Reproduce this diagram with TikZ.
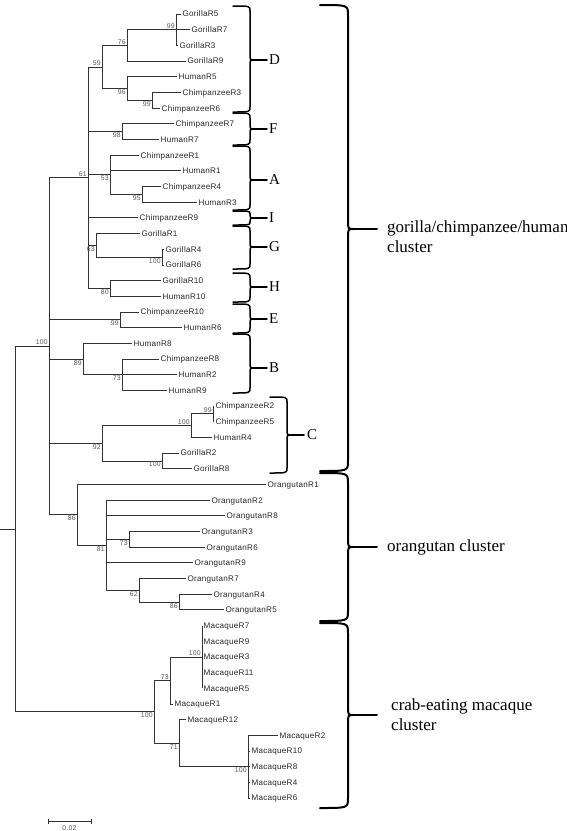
\documentclass[tikz,border=0pt]{standalone}
\usepackage{fontspec}
\setmainfont{Liberation Serif}
\newfontfamily\tipfont[LetterSpace=3]{Liberation Sans}

% curly bracket: [style] x, top, tip, bottom, hook, bend, end of tip line
\newcommand{\curly}[8][]{%
  \draw[brace line, #1] (#2-#6,#3) .. controls (#2,#3) .. (#2,#3+#7)
    -- (#2,#4-#7) .. controls (#2,#4) .. (#2+5,#4)
    .. controls (#2,#4) .. (#2,#4+#7)
    -- (#2,#5-#7) .. controls (#2,#5) .. (#2-#6,#5);
  \draw[brace line, #1] (#2+5,#4) -- (#8,#4);}

\begin{document}
\begin{tikzpicture}[x=1pt, y=-1pt]
    \tikzset{branch/.style={draw=black!80, line width=0.8pt},
             leaf/.style={font=\tipfont\fontsize{8.1}{9}\selectfont, text=black!85, anchor=west,
                          inner sep=1.5pt, text height=5.8pt, text depth=0pt},
             boot/.style={font=\tipfont\fontsize{6.9}{8}\selectfont, text=black!65, inner sep=1pt},
             clade/.style={font=\fontsize{15}{18}\selectfont, anchor=west, inner sep=1pt},
             cluster/.style={font=\fontsize{17}{20}\selectfont, anchor=west, align=left, inner sep=1pt},
             brace line/.style={draw=black, line width=1.5pt, line cap=round}}
    \useasboundingbox (0,0) rectangle (567,831);

    % leaves
    \node [leaf] (gR5)  at (181,14.0)  {GorillaR5};
    \node [leaf] (gR7)  at (190,29.7)  {GorillaR7};
    \node [leaf] (gR3)  at (178,45.4)  {GorillaR3};
    \node [leaf] (gR9)  at (186,61.0)  {GorillaR9};
    \node [leaf] (hR5)  at (177,76.7)  {HumanR5};
    \node [leaf] (cR3)  at (181,92.4)  {ChimpanzeeR3};
    \node [leaf] (cR6)  at (160,108.1) {ChimpanzeeR6};
    \node [leaf] (cR7)  at (174,123.8) {ChimpanzeeR7};
    \node [leaf] (hR7)  at (159,139.4) {HumanR7};
    \node [leaf] (cR1)  at (139,155.1) {ChimpanzeeR1};
    \node [leaf] (hR1)  at (181,170.8) {HumanR1};
    \node [leaf] (cR4)  at (161,186.5) {ChimpanzeeR4};
    \node [leaf] (hR3)  at (197,202.2) {HumanR3};
    \node [leaf] (cR9)  at (138,217.8) {ChimpanzeeR9};
    \node [leaf] (gR1)  at (140,233.5) {GorillaR1};
    \node [leaf] (gR4)  at (164,249.2) {GorillaR4};
    \node [leaf] (gR6)  at (164,264.9) {GorillaR6};
    \node [leaf] (gR10) at (161,280.6) {GorillaR10};
    \node [leaf] (hR10) at (161,296.2) {HumanR10};
    \node [leaf] (cR10) at (139,311.9) {ChimpanzeeR10};
    \node [leaf] (hR6)  at (182,327.6) {HumanR6};
    \node [leaf] (hR8)  at (132,343.3) {HumanR8};
    \node [leaf] (cR8)  at (159,359.0) {ChimpanzeeR8};
    \node [leaf] (hR2)  at (177,374.6) {HumanR2};
    \node [leaf] (hR9)  at (167,390.3) {HumanR9};
    \node [leaf] (cR2)  at (214,406.0) {ChimpanzeeR2};
    \node [leaf] (cR5)  at (214,421.7) {ChimpanzeeR5};
    \node [leaf] (hR4)  at (212,437.4) {HumanR4};
    \node [leaf] (gR2)  at (179,453.0) {GorillaR2};
    \node [leaf] (gR8)  at (192,468.7) {GorillaR8};
    \node [leaf] (oR1)  at (266,484.4) {OrangutanR1};
    \node [leaf] (oR2)  at (210,500.1) {OrangutanR2};
    \node [leaf] (oR8)  at (225,515.8) {OrangutanR8};
    \node [leaf] (oR3)  at (200,531.4) {OrangutanR3};
    \node [leaf] (oR6)  at (205,547.1) {OrangutanR6};
    \node [leaf] (oR9)  at (193,562.8) {OrangutanR9};
    \node [leaf] (oR7)  at (186,578.5) {OrangutanR7};
    \node [leaf] (oR4)  at (212,594.2) {OrangutanR4};
    \node [leaf] (oR5)  at (224,609.8) {OrangutanR5};
    \node [leaf] (mR7)  at (202,625.5) {MacaqueR7};
    \node [leaf] (mR9)  at (202,641.2) {MacaqueR9};
    \node [leaf] (mR3)  at (202,656.9) {MacaqueR3};
    \node [leaf] (mR11) at (202,672.6) {MacaqueR11};
    \node [leaf] (mR5)  at (202,688.2) {MacaqueR5};
    \node [leaf] (mR1)  at (173,703.9) {MacaqueR1};
    \node [leaf] (mR12) at (186,719.6) {MacaqueR12};
    \node [leaf] (mR2)  at (278,735.3) {MacaqueR2};
    \node [leaf] (mR10) at (250,751.0) {MacaqueR10};
    \node [leaf] (mR8)  at (250,766.6) {MacaqueR8};
    \node [leaf] (mR4)  at (250,782.3) {MacaqueR4};
    \node [leaf] (mR6)  at (250,798.0) {MacaqueR6};

    % inner nodes
    \coordinate (base)  at (0,529);
    \coordinate (root)  at (15,529);
    \coordinate (gch)   at (49,346.2);
    \coordinate (c61)   at (88,177.7);
    \coordinate (c59)   at (102,66.9);
    \coordinate (c76)   at (127,45.4);
    \coordinate (c99a)  at (176,29.7);
    \coordinate (c96)   at (127,88.5);
    \coordinate (c99b)  at (152,100.2);
    \coordinate (c98)   at (122,131.6);
    \coordinate (c53)   at (110,174.7);
    \coordinate (c95)   at (142,194.3);
    \coordinate (c63)   at (96,245.3);
    \coordinate (c100a) at (162,257.0);
    \coordinate (c80)   at (110,288.4);
    \coordinate (c99e)  at (120,319.8);
    \coordinate (c89)   at (83,359.0);
    \coordinate (c73)   at (122,374.6);
    \coordinate (c92)   at (102,443.1);
    \coordinate (c100b) at (191,425.6);
    \coordinate (c99d)  at (213,413.8);
    \coordinate (c100c) at (162,460.9);
    \coordinate (c86)   at (77,514.8);
    \coordinate (c81)   at (106,545.2);
    \coordinate (c73o)  at (129,539.3);
    \coordinate (c62)   at (139,590.2);
    \coordinate (c86o)  at (179,602.0);
    \coordinate (mac)   at (154,711.8);
    \coordinate (c73m)  at (170,680.4);
    \coordinate (c100m) at (202,656.9);
    \coordinate (c71)   at (179,743.1);
    \coordinate (c100n) at (248,766.6);

    % branches
    \draw [branch] (base) -- (root);
    \draw [branch] (root) |- (gch) (root) |- (mac);
    \draw [branch] (gch) |- (c61) (gch) |- (c99e) (gch) |- (c89) (gch) |- (c92) (gch) |- (c86);
    \draw [branch] (c61) |- (c59) (c61) |- (c98) (c61) |- (c53) (c61) |- (cR9) (c61) |- (c63) (c61) |- (c80);
    \draw [branch] (c59) |- (c76) (c59) |- (c96);
    \draw [branch] (c76) |- (c99a) (c76) |- (gR9);
    \draw [branch] (c99a) |- (gR5) (c99a) |- (gR7) (c99a) |- (gR3);
    \draw [branch] (c96) |- (hR5) (c96) |- (c99b);
    \draw [branch] (c99b) |- (cR3) (c99b) |- (cR6);
    \draw [branch] (c98) |- (cR7) (c98) |- (hR7);
    \draw [branch] (c53) |- (cR1) (c53) |- (hR1) (c53) |- (c95);
    \draw [branch] (c95) |- (cR4) (c95) |- (hR3);
    \draw [branch] (c63) |- (gR1) (c63) |- (c100a);
    \draw [branch] (c100a) |- (gR4) (c100a) |- (gR6);
    \draw [branch] (c80) |- (gR10) (c80) |- (hR10);
    \draw [branch] (c99e) |- (cR10) (c99e) |- (hR6);
    \draw [branch] (c89) |- (hR8) (c89) |- (c73);
    \draw [branch] (c73) |- (cR8) (c73) |- (hR2) (c73) |- (hR9);
    \draw [branch] (c92) |- (c100b) (c92) |- (c100c);
    \draw [branch] (c100b) |- (c99d) (c100b) |- (hR4);
    \draw [branch] (c99d) |- (cR2) (c99d) |- (cR5);
    \draw [branch] (c100c) |- (gR2) (c100c) |- (gR8);
    \draw [branch] (c86) |- (oR1) (c86) |- (c81);
    \draw [branch] (c81) |- (oR2) (c81) |- (oR8) (c81) |- (c73o) (c81) |- (oR9) (c81) |- (c62);
    \draw [branch] (c73o) |- (oR3) (c73o) |- (oR6);
    \draw [branch] (c62) |- (oR7) (c62) |- (c86o);
    \draw [branch] (c86o) |- (oR4) (c86o) |- (oR5);
    \draw [branch] (mac) |- (c73m) (mac) |- (c71);
    \draw [branch] (c73m) |- (c100m) (c73m) |- (mR1);
    \draw [branch] (c100m) |- (mR7) (c100m) |- (mR9) (c100m) |- (mR3) (c100m) |- (mR11) (c100m) |- (mR5);
    \draw [branch] (c71) |- (mR12) (c71) |- (c100n);
    \draw [branch] (c100n) |- (mR2) (c100n) |- (mR10) (c100n) |- (mR8) (c100n) |- (mR4) (c100n) |- (mR6);

    % bootstrap values
    \node [boot, above left] (bgch)   at (gch)   {100};
    \node [boot, above left] (b61)    at (c61)   {61};
    \node [boot, above left] (b59)    at (c59)   {59};
    \node [boot, above left] (b76)    at (c76)   {76};
    \node [boot, above left] (b99a)   at (c99a)  {99};
    \node [boot, below left] (b96)    at (c96)   {96};
    \node [boot, below left] (b99b)   at (c99b)  {99};
    \node [boot, below left] (b98)    at (c98)   {98};
    \node [boot, below left] (b53)    at (c53)   {53};
    \node [boot, below left] (b95)    at (c95)   {95};
    \node [boot, below left] (b63)    at (c63)   {63};
    \node [boot, below left] (b100a)  at (c100a) {100};
    \node [boot, below left] (b80)    at (c80)   {80};
    \node [boot, below left] (b99e)   at (c99e)  {99};
    \node [boot, below left] (b89)    at (c89)   {89};
    \node [boot, below left] (b73)    at (c73)   {73};
    \node [boot, below left] (b92)    at (c92)   {92};
    \node [boot, above left] (b100b)  at (c100b) {100};
    \node [boot, above left] (b99d)   at (c99d)  {99};
    \node [boot, below left] (b100c)  at (c100c) {100};
    \node [boot, below left] (b86)    at (c86)   {86};
    \node [boot, below left] (b81)    at (c81)   {81};
    \node [boot, below left] (b73o)   at (c73o)  {73};
    \node [boot, below left] (b62)    at (c62)   {62};
    \node [boot, below left] (b86o)   at (c86o)  {86};
    \node [boot, below left] (bmac)   at (mac)   {100};
    \node [boot, above left] (b73m)   at (c73m)  {73};
    \node [boot, above left] (b100m)  at (c100m) {100};
    \node [boot, below left] (b71)    at (c71)   {71};
    \node [boot, below left] (b100n)  at (c100n) {100};

    % scale bar
    \coordinate (s0) at (48,821.7);
    \coordinate (s1) at (91,821.7);
    \draw [branch] (s0) -- (s1);
    \draw [branch] ([yshift=-2.5pt]s0) -- ([yshift=2.5pt]s0);
    \draw [branch] ([yshift=-2.5pt]s1) -- ([yshift=2.5pt]s1);
    \node [boot] (scale) at (69.5,828) {0.02};

    % clade brackets
    \curly{250}{6}{60}{112}{17}{5}{267}
    \curly{250}{113}{129}{145}{17}{5}{267}
    \curly{250}{146}{180}{210}{17}{5}{267}
    \curly{250}{211}{218}{225}{17}{3}{267}
    \curly{250}{226}{247}{269}{17}{5}{267}
    \curly{250}{273}{287}{302}{17}{5}{267}
    \curly{250}{304}{319}{333}{17}{5}{267}
    \curly{250}{334}{368}{393}{17}{5}{267}
    \curly{287}{397}{435}{473}{17}{5}{304}
    \node [clade] (labD) at (268,60)  {D};
    \node [clade] (labF) at (268,129) {F};
    \node [clade] (labA) at (268,180) {A};
    \node [clade] (labI) at (268,218) {I};
    \node [clade] (labG) at (268,247) {G};
    \node [clade] (labH) at (268,287) {H};
    \node [clade] (labE) at (268,319) {E};
    \node [clade] (labB) at (268,368) {B};
    \node [clade] (labC) at (306,435) {C};

    % cluster brackets
    \curly[line width=2pt]{348}{5}{229}{471}{28}{10}{377}
    \curly[line width=2pt]{348}{473}{547}{621}{28}{10}{377}
    \curly[line width=2pt]{348}{623}{715}{808}{28}{10}{377}
    \node [cluster] (gchlab) at (386,237) {gorilla/chimpanzee/human\\cluster};
    \node [cluster] (oralab) at (386,547) {orangutan cluster};
    \node [cluster] (maclab) at (390,715) {crab-eating macaque\\cluster};
\end{tikzpicture}
\end{document}
